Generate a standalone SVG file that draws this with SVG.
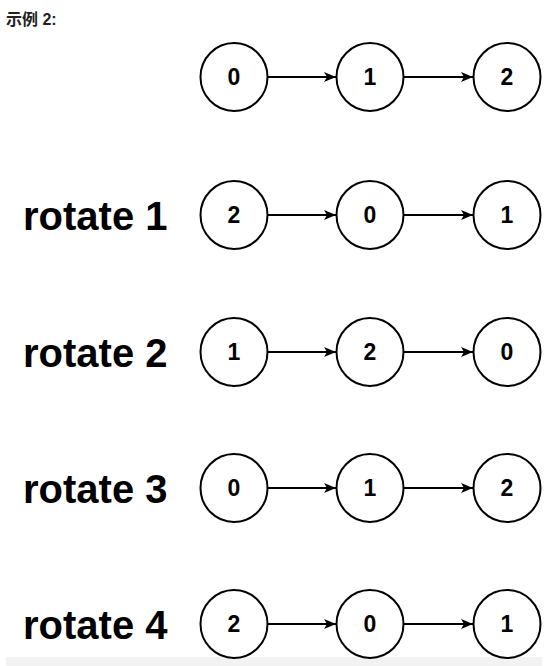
<svg xmlns="http://www.w3.org/2000/svg" width="556" height="666" viewBox="0 0 556 666">
<style>
.n ellipse{fill:#fff;stroke:#000;stroke-width:2}
.n text{font-family:"Liberation Sans",Arial,sans-serif;font-weight:bold;font-size:23px;text-anchor:middle;fill:#000}
.lbl{font-family:"Liberation Sans",Arial,sans-serif;font-weight:bold;font-size:40px;fill:#000}
.hdr{font-family:"Liberation Sans","Noto Sans CJK SC",sans-serif;font-weight:bold;font-size:16px;fill:#222}
.e line{stroke:#000;stroke-width:2;marker-end:url(#ah)}
</style>
<defs>
<marker id="ah" markerWidth="13" markerHeight="12" refX="12" refY="6" orient="auto" markerUnits="userSpaceOnUse">
<path d="M0,1 L12,6 L0,11 L3,6 Z" fill="#000"/>
</marker>
</defs>
<rect width="556" height="666" fill="#fff"/>
<rect x="6" y="657" width="536" height="9" fill="#f2f2f2"/>
<text class="hdr" x="6" y="25">示例 2:</text>
<g id="labels">
<text class="lbl" x="23" y="230">rotate 1</text>
<text class="lbl" x="23" y="367">rotate 2</text>
<text class="lbl" x="23" y="503">rotate 3</text>
<text class="lbl" x="23" y="639">rotate 4</text>
</g>
<g id="connectors" class="e">
<line x1="268" y1="77" x2="336" y2="77"/>
<line x1="404" y1="77" x2="473" y2="77"/>
<line x1="268" y1="215" x2="336" y2="215"/>
<line x1="404" y1="215" x2="473" y2="215"/>
<line x1="268" y1="352" x2="336" y2="352"/>
<line x1="404" y1="352" x2="473" y2="352"/>
<line x1="268" y1="488" x2="336" y2="488"/>
<line x1="404" y1="488" x2="473" y2="488"/>
<line x1="268" y1="624" x2="336" y2="624"/>
<line x1="404" y1="624" x2="473" y2="624"/>
</g>
<g id="r0a" class="n"><ellipse cx="234" cy="77" rx="33.5" ry="34"/><text x="234" y="85">0</text></g>
<g id="r0b" class="n"><ellipse cx="370" cy="77" rx="33.5" ry="34"/><text x="370" y="85">1</text></g>
<g id="r0c" class="n"><ellipse cx="507" cy="77" rx="33.5" ry="34"/><text x="507" y="85">2</text></g>
<g id="r1a" class="n"><ellipse cx="234" cy="215" rx="33.5" ry="34"/><text x="234" y="223">2</text></g>
<g id="r1b" class="n"><ellipse cx="370" cy="215" rx="33.5" ry="34"/><text x="370" y="223">0</text></g>
<g id="r1c" class="n"><ellipse cx="507" cy="215" rx="33.5" ry="34"/><text x="507" y="223">1</text></g>
<g id="r2a" class="n"><ellipse cx="234" cy="352" rx="33.5" ry="34"/><text x="234" y="360">1</text></g>
<g id="r2b" class="n"><ellipse cx="370" cy="352" rx="33.5" ry="34"/><text x="370" y="360">2</text></g>
<g id="r2c" class="n"><ellipse cx="507" cy="352" rx="33.5" ry="34"/><text x="507" y="360">0</text></g>
<g id="r3a" class="n"><ellipse cx="234" cy="488" rx="33.5" ry="34"/><text x="234" y="496">0</text></g>
<g id="r3b" class="n"><ellipse cx="370" cy="488" rx="33.5" ry="34"/><text x="370" y="496">1</text></g>
<g id="r3c" class="n"><ellipse cx="507" cy="488" rx="33.5" ry="34"/><text x="507" y="496">2</text></g>
<g id="r4a" class="n"><ellipse cx="234" cy="624" rx="33.5" ry="34"/><text x="234" y="632">2</text></g>
<g id="r4b" class="n"><ellipse cx="370" cy="624" rx="33.5" ry="34"/><text x="370" y="632">0</text></g>
<g id="r4c" class="n"><ellipse cx="507" cy="624" rx="33.5" ry="34"/><text x="507" y="632">1</text></g>
</svg>
